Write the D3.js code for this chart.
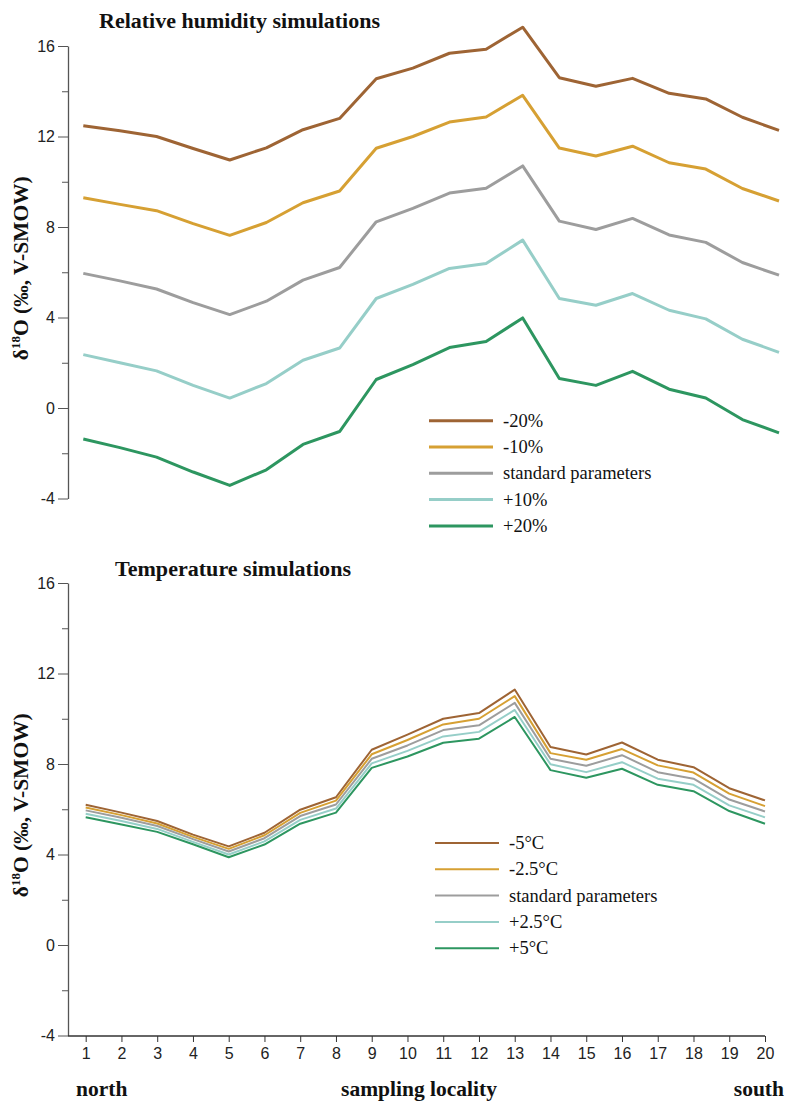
<!DOCTYPE html>
<html>
<head>
<meta charset="utf-8">
<script src="https://d3js.org/d3.v7.min.js"></script>
<style>
  body { margin: 0; background: #fff; }
</style>
</head>
<body>
<div id="chart_div"></div>
<script>
// sampling localities, north -> south
var localities = [1,2,3,4,5,6,7,8,9,10,11,12,13,14,15,16,17,18,19,20];
var yTicks = [-4, 0, 4, 8, 12, 16];

// relative humidity simulations (d18O, permil V-SMOW)
var rhLabels = ["-20%", "-10%", "standard parameters", "+10%", "+20%"];
var rhMinus20 = [12.48, 12.25, 12.0, 11.47, 10.96, 11.5, 12.3, 12.8, 14.55, 15.02, 15.68, 15.86, 16.83, 14.6, 14.22, 14.57, 13.91, 13.66, 12.85, 12.27];
var rhMinus10 = [9.29, 9.0, 8.72, 8.15, 7.63, 8.2, 9.07, 9.59, 11.48, 12.0, 12.64, 12.86, 13.82, 11.49, 11.14, 11.57, 10.84, 10.56, 9.7, 9.15];
var rhStandard = [5.95, 5.62, 5.26, 4.66, 4.13, 4.72, 5.65, 6.21, 8.23, 8.82, 9.5, 9.71, 10.7, 8.26, 7.89, 8.38, 7.65, 7.32, 6.43, 5.87];
var rhPlus10 = [2.36, 2.0, 1.64, 1.0, 0.44, 1.08, 2.11, 2.65, 4.84, 5.46, 6.17, 6.39, 7.42, 4.84, 4.54, 5.06, 4.32, 3.94, 3.04, 2.46];
var rhPlus20 = [-1.37, -1.75, -2.17, -2.83, -3.42, -2.73, -1.61, -1.04, 1.26, 1.92, 2.67, 2.94, 3.98, 1.3, 1.0, 1.62, 0.83, 0.44, -0.51, -1.1];

// temperature simulations
var tLabels = ["-5°C", "-2.5°C", "standard parameters", "+2.5°C", "+5°C"];
var tMinus5 = [6.2, 5.85, 5.48, 4.88, 4.36, 4.96, 5.98, 6.53, 8.63, 9.3, 10.0, 10.25, 11.29, 8.75, 8.42, 8.95, 8.19, 7.86, 6.93, 6.39];
var tMinus25 = [6.08, 5.74, 5.37, 4.78, 4.25, 4.85, 5.84, 6.38, 8.43, 9.06, 9.75, 10.0, 11.0, 8.48, 8.19, 8.66, 7.94, 7.62, 6.69, 6.14];
var tStandard = [5.95, 5.62, 5.26, 4.68, 4.13, 4.72, 5.7, 6.21, 8.23, 8.82, 9.5, 9.71, 10.7, 8.23, 7.92, 8.39, 7.64, 7.35, 6.43, 5.9];
var tPlus25 = [5.8, 5.48, 5.13, 4.56, 4.0, 4.58, 5.53, 6.03, 8.03, 8.58, 9.22, 9.42, 10.39, 7.99, 7.64, 8.08, 7.35, 7.08, 6.17, 5.64];
var tPlus5 = [5.65, 5.33, 5.0, 4.45, 3.88, 4.44, 5.36, 5.85, 7.83, 8.33, 8.94, 9.12, 10.08, 7.73, 7.39, 7.79, 7.08, 6.8, 5.92, 5.36];

var colors = ["#9e6434", "#d6a033", "#9d9d9d", "#96cec8", "#2d9660"];

var serif = "'Liberation Serif', 'Times New Roman', serif";
var sans = "'Liberation Sans', Arial, sans-serif";

var all_width = 787;
var all_height = 1102;

var svg = d3.select("#chart_div")
  .append("svg")
    .attr("width", all_width)
    .attr("height", all_height);

// d3 puts font-size=10 on the axis group, so override it there
function styleTicks(a) {
  a.attr("font-size", 16).attr("font-family", sans);
  a.selectAll(".tick text").attr("fill", "#222");
}

// one panel = y axis + five lines + legend
function panel(opt) {
  var x = d3.scaleLinear()
    .domain([1, 20])
    .range(opt.xRange);
  var y = d3.scaleLinear()
    .domain([-4, 16])
    .range(opt.yRange);

  var g = svg.append("g");

  // y axis with minor ticks in between
  g.append("g")
    .attr("transform", "translate(68,0)")
    .call(d3.axisLeft(y).tickValues([-2, 2, 6, 10, 14]).tickSize(6).tickFormat(""))
    .call(function(a) { a.selectAll("line").attr("stroke", "#555"); a.select(".domain").remove(); });
  g.append("g")
    .attr("transform", "translate(68,0)")
    .call(d3.axisLeft(y).tickValues(yTicks).tickSize(10).tickSizeOuter(0).tickPadding(3)
      .tickFormat(function(d) { return String(d); }))
    .call(styleTicks)
    .call(function(a) {
      a.selectAll("line").attr("stroke", "#555");
      a.select(".domain").attr("stroke", "#555").attr("stroke-width", 1.3);
    });

  // y label
  var lab = g.append("text")
    .attr("transform", "translate(28," + ((opt.yRange[0] + opt.yRange[1]) / 2 - 4) + ") rotate(-90)")
    .attr("text-anchor", "middle")
    .style("font-family", serif)
    .style("font-weight", "bold")
    .style("font-size", "21.5px")
    .style("fill", "#111");
  lab.append("tspan").text("δ");
  lab.append("tspan").attr("dy", -8).style("font-size", "13px").text("18");
  lab.append("tspan").attr("dy", 8).text("O (‰, V-SMOW)");

  // title
  g.append("text")
    .attr("x", opt.titleX)
    .attr("y", opt.titleY)
    .attr("textLength", opt.titleW)
    .attr("lengthAdjust", "spacingAndGlyphs")
    .style("font-family", serif)
    .style("font-weight", "bold")
    .style("font-size", "20.5px")
    .style("fill", "#111")
    .text(opt.title);

  var line = d3.line()
    .x(function(d, i) { return x(localities[i]); })
    .y(function(d) { return y(d); });

  g.selectAll(".series")
    .data(opt.series)
    .enter()
    .append("path")
      .attr("d", function(d) { return line(d); })
      .attr("fill", "none")
      .attr("stroke", function(d, i) { return colors[i]; })
      .attr("stroke-width", opt.lineWidth)
      .attr("stroke-linejoin", "round");

  // legend
  var leg = g.selectAll(".leg")
    .data(opt.labels)
    .enter()
    .append("g")
      .attr("transform", function(d, i) { return "translate(" + opt.legX + "," + (opt.legY + i * 26.3) + ")"; });
  leg.append("line")
    .attr("x1", 0).attr("x2", 64)
    .attr("stroke", function(d, i) { return colors[i]; })
    .attr("stroke-width", opt.lineWidth);
  leg.append("text")
    .attr("x", 74)
    .attr("y", 6)
    .style("font-family", serif)
    .style("font-size", "18.5px")
    .style("fill", "#111")
    .text(function(d) { return d; });

  return x;
}

panel({
  title: "Relative humidity simulations", titleX: 99, titleY: 28, titleW: 281,
  xRange: [83.3, 779], yRange: [498.5, 46],
  series: [rhMinus20, rhMinus10, rhStandard, rhPlus10, rhPlus20],
  labels: rhLabels, lineWidth: 3, legX: 429, legY: 420.7
});

var xb = panel({
  title: "Temperature simulations", titleX: 115, titleY: 576, titleW: 236,
  xRange: [85.7, 765], yRange: [1035.5, 583],
  series: [tMinus5, tMinus25, tStandard, tPlus25, tPlus5],
  labels: tLabels, lineWidth: 2, legX: 435, legY: 843
});

// x axis of the lower panel
var xAxis = svg.append("g")
  .attr("transform", "translate(0,1036)")
  .call(d3.axisBottom(xb).tickValues(localities).tickFormat(d3.format("d")).tickSize(6).tickSizeOuter(0).tickPadding(6))
  .call(styleTicks);
xAxis.select(".domain").attr("d", "M68,0H" + xb(20)).attr("stroke", "#333").attr("stroke-width", 1.3);
xAxis.selectAll("line").attr("stroke", "#333");

// bottom labels
var bottomText = [["north", 76, "start"], ["sampling locality", 419, "middle"], ["south", 784, "end"]];
svg.selectAll(".xlab")
  .data(bottomText)
  .enter()
  .append("text")
    .attr("x", function(d) { return d[1]; })
    .attr("y", 1096)
    .attr("text-anchor", function(d) { return d[2]; })
    .style("font-family", serif)
    .style("font-weight", "bold")
    .style("font-size", "21.5px")
    .style("fill", "#111")
    .text(function(d) { return d[0]; });
</script>
</body>
</html>
